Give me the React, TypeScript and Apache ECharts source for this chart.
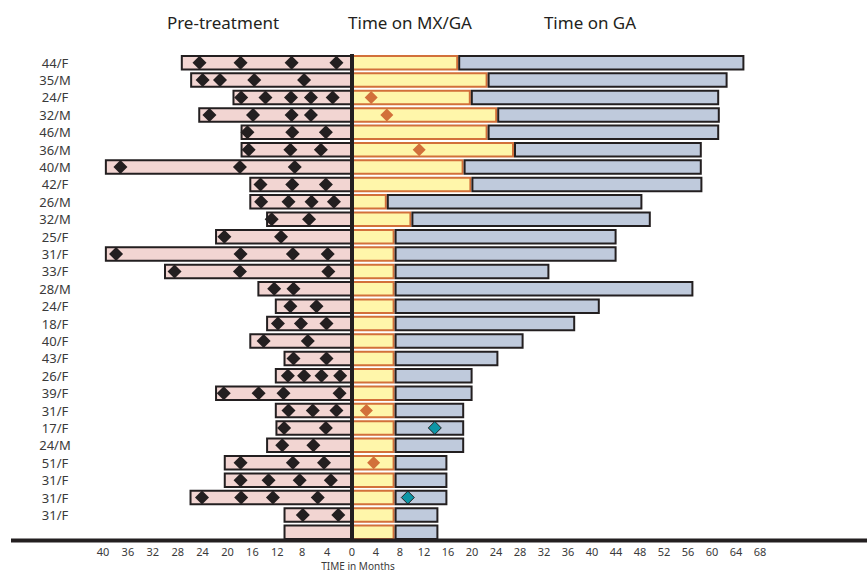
import React, { useEffect, useRef } from "react";
import * as echarts from "echarts";

const patients = ["44/F","35/M","24/F","32/M","46/M","36/M","40/M","42/F","26/M","32/M","25/F","31/F","33/F","28/M","24/F","18/F","40/F","43/F","26/F","39/F","31/F","17/F","24/M","51/F","31/F","31/F","31/F",""];

// months before treatment (drawn to the left)
const preTreatment = [27.5,26.0,19.2,24.7,17.9,17.9,39.7,16.5,16.5,13.8,22.0,39.7,30.2,15.2,12.4,13.8,16.5,11.0,12.4,22.0,12.4,12.3,13.8,20.6,20.6,26.1,11.0,11.0];

// events during pre-treatment (months before start)
const preEvents = [
  [24.5,17.9,9.7,2.5],[24.0,21.2,15.7,7.7],[17.8,13.9,9.8,6.6,3.1],[22.9,15.9,9.7,6.6],
  [16.8,9.6,4.2],[16.6,9.9,5.0],[37.2,18.0,9.2],[14.7,9.6,4.2],[14.6,10.2,6.5,2.9],
  [12.9,6.9],[20.5,11.4],[37.9,17.9,9.5,3.9],[28.5,18.0,3.8],[12.5,9.4],[9.9,5.7],
  [11.9,8.2,4.1],[14.2,7.1],[9.4,4.1],[10.3,7.7,4.9,1.9],[20.6,15.0,11.0,2.0],
  [10.2,6.3,2.5],[10.9,4.2],[11.2,6.2],[17.9,9.5,4.5],[17.9,13.4,8.4,3.4],
  [24.1,17.8,12.7,5.5],[7.9,2.2],[]
];

// months on MX/GA
const timeMxGa = [17.7,22.6,19.8,24.2,22.6,27.0,18.6,19.9,5.8,9.9,7.1,7.1,7.1,7.1,7.1,7.1,7.1,7.1,7.1,7.1,7.1,7.1,7.1,7.1,7.1,7.1,7.1,7.1];
// total months on treatment (MX/GA + GA)
const totalTime = [65.4,62.6,61.2,61.3,61.2,58.3,58.3,58.4,48.4,49.8,44.1,44.1,32.9,56.9,41.3,37.2,28.6,24.4,20.1,20.1,18.7,18.7,18.7,15.9,15.9,15.9,14.4,14.4];

// [row index, month] events on treatment
const mxGaEvents = [[2,3.2],[3,5.8],[5,11.2],[20,2.4],[23,3.6]];
const gaEvents = [[21,13.8],[25,9.3]];

const FONT = "'Noto Sans', 'Open Sans', sans-serif";
const INK = "#231f20";

export default function App() {
  const ref = useRef<HTMLDivElement>(null);
  useEffect(() => {
    if (!ref.current) return;
    const chart = echarts.init(ref.current, null, { renderer: "svg" });
    const gridTop = 54;
    const gridBottom = 31;
    const barW = 15.5;
    const option: any = {
      animation: false,
      grid: [
        { left: 103, width: 249, top: gridTop, bottom: gridBottom },
        { left: 352, width: 408, top: gridTop, bottom: gridBottom },
      ],
      xAxis: [
        {
          gridIndex: 0, type: "value", min: -40, max: 0, interval: 4,
          axisLine: { show: false }, axisTick: { show: false }, splitLine: { show: false },
          axisLabel: { showMaxLabel: false, formatter: (v: number) => String(Math.abs(v)), color: "#3a3a3a", fontSize: 11, fontFamily: FONT, margin: 5 },
        },
        {
          gridIndex: 1, type: "value", min: 0, max: 68, interval: 4,
          axisLine: { show: false }, axisTick: { show: false }, splitLine: { show: false },
          axisLabel: { color: (v: number) => (v === 0 ? "#e07b39" : "#3a3a3a"), fontSize: 11, fontFamily: FONT, margin: 5 },
        },
      ],
      yAxis: [
        {
          gridIndex: 0, type: "category", data: patients, inverse: true,
          axisLine: { show: false }, axisTick: { show: false }, splitLine: { show: false },
          axisLabel: { align: "center", margin: 48, color: "#3a3a3a", fontSize: 13, fontFamily: FONT, interval: 0 },
        },
        {
          gridIndex: 1, type: "category", data: patients, inverse: true,
          axisLine: { show: false }, axisTick: { show: false }, splitLine: { show: false },
          axisLabel: { show: false },
        },
      ],
      series: [
        {
          name: "Pre-treatment", type: "bar", xAxisIndex: 0, yAxisIndex: 0,
          data: preTreatment.map((v) => -v), barWidth: barW,
          itemStyle: { color: "#f2d5d2", borderColor: INK, borderWidth: 2 },
        },
        {
          name: "Pre events", type: "scatter", xAxisIndex: 0, yAxisIndex: 0,
          data: preEvents.flatMap((arr, i) => arr.map((v) => [-v, i])),
          symbol: "diamond", symbolSize: [14, 14], z: 5,
          itemStyle: { color: INK, opacity: 1 },
        },
        {
          name: "Time on MX/GA", type: "bar", stack: "t", xAxisIndex: 1, yAxisIndex: 1,
          data: timeMxGa, barWidth: barW,
          itemStyle: { color: "#fff6aa", borderColor: "#d2703a", borderWidth: 2 },
        },
        {
          name: "Time on GA", type: "bar", stack: "t", xAxisIndex: 1, yAxisIndex: 1,
          data: totalTime.map((t, i) => +(t - timeMxGa[i]).toFixed(2)), barWidth: barW,
          itemStyle: { color: "#bfcadc", borderColor: INK, borderWidth: 2 },
          markLine: {
            silent: true, symbol: "none", label: { show: false },
            lineStyle: { color: INK, width: 4, type: "solid" },
            data: [{ xAxis: 0 }],
          },
        },
        {
          name: "MX/GA events", type: "scatter", xAxisIndex: 1, yAxisIndex: 1,
          data: mxGaEvents.map(([r, v]) => [v, r]),
          symbol: "diamond", symbolSize: [13, 13], z: 5,
          itemStyle: { color: "#d2703a", opacity: 1 },
        },
        {
          name: "GA events", type: "scatter", xAxisIndex: 1, yAxisIndex: 1,
          data: gaEvents.map(([r, v]) => [v, r]),
          symbol: "diamond", symbolSize: [13, 13], z: 5,
          itemStyle: { color: "#0d96a6", borderColor: INK, borderWidth: 1, opacity: 1 },
        },
      ],
      graphic: [
        { type: "line", z: 10, shape: { x1: 11, y1: 540.5, x2: 867, y2: 540.5 }, style: { stroke: INK, lineWidth: 4 } },
        { type: "text", x: 223, y: 22, style: { text: "Pre-treatment", fontSize: 17, fontFamily: FONT, fill: INK, align: "center", verticalAlign: "middle" } },
        { type: "text", x: 410, y: 22, style: { text: "Time on MX/GA", fontSize: 17, fontFamily: FONT, fill: INK, align: "center", verticalAlign: "middle" } },
        { type: "text", x: 590, y: 22, style: { text: "Time on GA", fontSize: 17, fontFamily: FONT, fill: INK, align: "center", verticalAlign: "middle" } },
        { type: "text", x: 358, y: 566, style: { text: "TIME in Months", fontSize: 10, fontFamily: FONT, fill: "#3a3a3a", align: "center", verticalAlign: "middle" } },
      ],
    };
    chart.setOption(option);
    return () => chart.dispose();
  }, []);
  return <div ref={ref} style={{ width: 867, height: 572, position: "absolute", left: 0, top: 0 }} />;
}
